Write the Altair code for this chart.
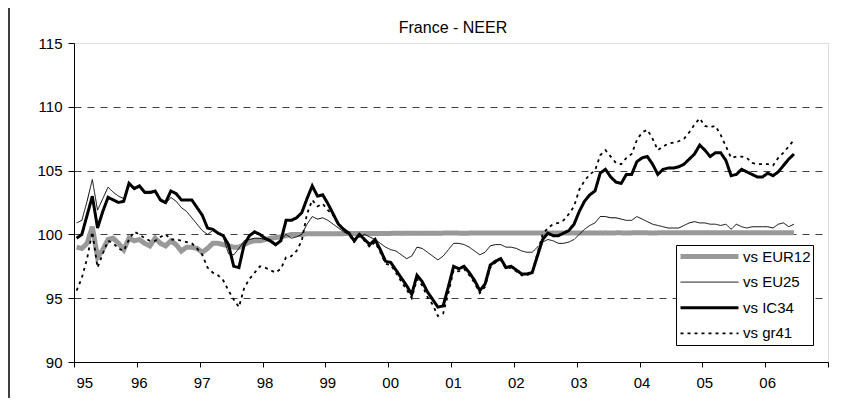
import altair as alt
import pandas as pd

series_names = ["vs EUR12", "vs EU25", "vs IC34", "vs gr41"]
series_colors = ["#999999", "#000000", "#000000", "#000000"]
series_widths = [5, 1, 3, 1.8]
series_dash = [[1, 0], [1, 0], [1, 0], [3, 4]]
start_year = 1995  # monthly data, Jan 1995 - Jun 2006
year_ticks = list(range(1995, 2008))
y_ticks = [90, 95, 100, 105, 110, 115]

eur12 = [
    99.0, 98.9, 99.3, 100.6, 98.2, 98.8, 99.6, 99.7, 99.3, 98.8, 99.7, 99.5,
    99.6, 99.3, 99.1, 99.7, 99.3, 99.1, 99.5, 99.2, 98.7, 99.0, 99.0, 98.9,
    98.6, 98.9, 99.3, 99.3, 99.2, 99.1, 99.0, 99.0, 99.2, 99.4, 99.5, 99.5,
    99.6, 99.7, 99.75, 99.8, 99.9, 100.0, 100.0, 100.0, 100.05, 100.05, 100.05, 100.05,
    100.05, 100.06, 100.05, 100.06, 100.07, 100.06, 100.07, 100.07, 100.08, 100.07, 100.08, 100.08,
    100.08, 100.09, 100.08, 100.09, 100.09, 100.08, 100.09, 100.09, 100.1, 100.09, 100.1, 100.1,
    100.1, 100.1, 100.09, 100.1, 100.1, 100.1, 100.1, 100.11, 100.1, 100.1, 100.11, 100.1,
    100.1, 100.11, 100.1, 100.11, 100.11, 100.1, 100.11, 100.11, 100.11, 100.1, 100.11, 100.11,
    100.11, 100.11, 100.12, 100.11, 100.11, 100.12, 100.11, 100.12, 100.12, 100.11, 100.12, 100.12,
    100.12, 100.12, 100.11, 100.12, 100.12, 100.12, 100.12, 100.12, 100.13, 100.12, 100.12, 100.12,
    100.12, 100.13, 100.12, 100.12, 100.13, 100.12, 100.12, 100.13, 100.12, 100.13, 100.12, 100.12,
    100.13, 100.12, 100.13, 100.12, 100.12, 100.13,
]

eu25 = [
    100.9, 101.1, 102.6, 104.3, 101.9, 102.8, 103.7, 103.3, 103.0, 102.8, 103.9, 103.5,
    103.7, 103.2, 103.2, 103.3, 102.6, 102.4, 102.9, 102.6, 102.1, 101.8, 101.3, 100.8,
    100.3, 100.0, 100.3, 100.1, 99.8, 98.5, 98.4, 98.9, 99.5, 99.6, 99.7, 99.7,
    99.6, 99.4, 99.1, 99.6, 100.0, 99.7, 99.8, 100.0, 100.8, 101.4, 101.2, 101.3,
    101.1, 100.8, 100.5, 100.2, 100.0, 99.6, 99.8, 100.0, 99.8, 99.6, 99.3, 99.0,
    98.8, 98.7, 98.4, 98.1, 98.3, 99.0, 98.9, 98.6, 98.3, 98.0, 98.3, 98.8,
    99.3, 99.3, 99.2, 99.0, 98.7, 98.4, 98.6, 99.1, 99.2, 99.2, 99.0, 99.0,
    98.9, 98.7, 98.6, 98.6, 99.0, 99.4, 99.6, 99.5, 99.3, 99.3, 99.4, 99.6,
    100.0, 100.4, 100.7, 100.9, 101.4, 101.4, 101.3, 101.3, 101.2, 101.1, 101.1, 101.4,
    101.2, 101.0, 100.8, 100.7, 100.6, 100.5, 100.5, 100.5, 100.7, 100.9, 101.0, 100.9,
    100.9, 100.8, 100.8, 100.7, 100.8, 100.4, 100.8, 100.6, 100.5, 100.6, 100.6, 100.6,
    100.6, 100.5, 100.8, 100.9, 100.6, 100.8,
]

ic34 = [
    99.7, 100.0, 101.5, 103.0, 100.5, 101.8, 102.9, 102.7, 102.5, 102.6, 104.0, 103.6,
    103.8, 103.3, 103.3, 103.4, 102.7, 102.5, 103.4, 103.2, 102.7, 102.7, 102.7, 102.1,
    101.5, 100.5, 100.4, 100.1, 99.9, 99.2, 97.5, 97.4, 99.2, 99.9, 100.2, 100.0,
    99.7, 99.5, 99.2, 99.5, 101.1, 101.1, 101.3, 101.7, 102.8, 103.8, 103.0, 103.1,
    102.4, 101.6, 100.8, 100.4, 100.1, 99.5, 100.0, 99.6, 99.2, 99.6, 98.8, 97.9,
    97.8, 97.2, 96.6, 96.0, 95.3, 96.8, 96.3, 95.5, 94.9, 94.3, 94.4, 95.9,
    97.5, 97.3, 97.5, 97.0, 96.4, 95.6, 96.1, 97.6, 97.9, 98.1, 97.4, 97.5,
    97.2, 96.9, 96.9, 97.0, 98.3, 99.6, 100.1, 99.9, 99.9, 100.1, 100.3, 100.8,
    101.8, 102.6, 103.1, 103.4, 104.8, 105.1, 104.5, 104.1, 104.0, 104.7, 104.7, 105.7,
    106.0, 106.1, 105.5, 104.7, 105.1, 105.2, 105.2, 105.3, 105.5, 105.9, 106.3, 107.0,
    106.6, 106.1, 106.4, 106.4, 105.8, 104.6, 104.7, 105.1, 104.9, 104.7, 104.5, 104.5,
    104.8, 104.6, 104.9, 105.4, 105.9, 106.3,
]

gr41 = [
    95.6, 96.6, 98.1, 100.2, 97.4, 98.5, 99.5, 99.3, 98.9, 98.7, 99.6, 100.2,
    100.0, 99.7, 99.5, 99.5, 99.8, 100.0, 99.6, 99.6, 99.5, 99.4, 99.3, 98.9,
    98.4, 97.4, 97.0, 96.8, 96.4, 95.6, 94.9, 94.3, 95.8, 96.5, 97.0, 97.5,
    97.4, 97.2, 97.0, 97.3, 98.2, 98.3, 98.7, 99.5, 101.6, 102.7, 102.2, 102.4,
    101.9, 101.5, 100.8, 100.3, 100.0, 99.4, 99.9, 99.5, 99.0, 99.4, 98.6, 97.7,
    97.6, 97.0, 96.3, 95.7, 95.0, 96.5, 96.0, 95.1, 94.5, 93.6, 93.8, 95.4,
    97.2, 97.1, 97.3, 96.8, 96.2, 95.4, 95.9, 97.4, 97.8, 98.0, 97.3, 97.4,
    97.1, 96.8, 96.8, 97.0, 98.5, 100.0, 100.5, 100.8, 100.9, 101.1, 101.6, 102.2,
    103.5, 104.2, 104.7, 105.0, 106.2, 106.6, 106.1, 105.6, 105.5, 106.0, 106.3, 107.4,
    108.0, 108.2, 107.5, 106.6, 106.9, 107.1, 107.2, 107.3, 107.5, 108.0, 108.6, 109.1,
    108.5, 108.4, 108.5, 107.8, 106.9, 106.0, 106.1, 106.1, 106.0, 105.6, 105.5, 105.5,
    105.5, 105.4, 106.0, 106.4, 106.9, 107.4,
]

rows = []
for name, vals in zip(series_names, [eur12, eu25, ic34, gr41]):
    for i, v in enumerate(vals):
        rows.append({"series": name, "t": start_year + (i + 0.5) / 12.0, "value": v})
df = pd.DataFrame(rows)

W, H = 754, 319
FONT = "Liberation Sans, Arial, sans-serif"

lines = alt.Chart(df).mark_line(clip=False).encode(
    x=alt.X(
        "t:Q",
        scale=alt.Scale(domain=[1995, 2007], nice=False, zero=False),
        axis=alt.Axis(
            values=year_ticks,
            labelExpr="datum.value < 2007 ? slice(toString(datum.value), 2) : ''",
            title=None, grid=False, domainColor="#000000", tickColor="#000000",
            tickSize=5, labelPadding=8, labelOffset=2, labelFont=FONT,
            labelFontSize=15, labelColor="#000000",
        ),
    ),
    y=alt.Y(
        "value:Q",
        scale=alt.Scale(domain=[90, 115], nice=False, zero=False),
        axis=alt.Axis(
            values=y_ticks, title=None, grid=True, gridDash=[7, 6],
            gridColor="#404040", gridWidth=1,
            gridOpacity={"condition": {"test": "datum.value == 90 || datum.value == 115", "value": 0}, "value": 1},
            domainColor="#000000", tickColor="#000000", tickSize=6,
            labelPadding=6, labelFont=FONT, labelFontSize=15, labelColor="#000000",
        ),
    ),
    color=alt.Color(
        "series:N",
        scale=alt.Scale(domain=series_names, range=series_colors),
        legend=alt.Legend(
            orient="none", legendX=602, legendY=202, title=None,
            symbolType="stroke", symbolSize=3364, clipHeight=19, rowPadding=6.6,
            padding=2, strokeColor="#000000", fillColor="#ffffff",
            labelFont=FONT, labelFontSize=15, labelColor="#000000", labelOffset=2,
        ),
    ),
    strokeWidth=alt.StrokeWidth(
        "series:N",
        scale=alt.Scale(type="ordinal", domain=series_names, range=series_widths),
    ),
    strokeDash=alt.StrokeDash(
        "series:N", scale=alt.Scale(domain=series_names, range=series_dash),
    ),
    detail="series:N",
)

frame = alt.Chart(pd.DataFrame({"k": [0]})).mark_rule(color="#000000", strokeWidth=1.5).encode(
    x=alt.value(-65), y=alt.value(-35), y2=alt.value(H + 36)
)

chart = alt.layer(frame, lines).properties(
    width=W, height=H,
    autosize=alt.AutoSizeParams(type="none"),
    padding={"left": 66, "top": 35, "right": 6, "bottom": 36},
    title=alt.TitleParams(
        "France - NEER", font=FONT, fontSize=16, fontWeight="normal",
        color="#000000", anchor="middle", frame="group", dx=2, offset=0,
        dy=42, baseline="alphabetic",
    ),
).configure_view(stroke="#999999", strokeWidth=1).configure(background="#ffffff")

chart.save("out.html", embed_options={"renderer": "svg", "actions": False})
